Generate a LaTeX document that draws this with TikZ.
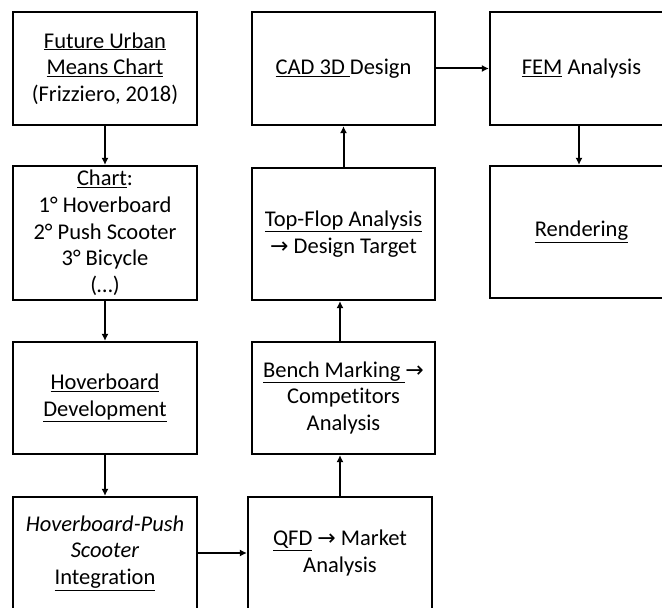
\documentclass[tikz,border=0pt]{standalone}
\usepackage{fontspec}
\setmainfont[Ligatures=NoCommon]{Carlito}
\newfontfamily\arrfont{DejaVu Sans}
\usetikzlibrary{arrows.meta}
\newcommand{\rarr}{{\arrfont\fontsize{22}{20}\selectfont →}}
\begin{document}
\begin{tikzpicture}[x=1pt,y=1pt,
  box/.style={draw,line width=2.2pt,rectangle,align=center,inner sep=0pt,
    minimum width=184pt,font=\fontsize{22.5}{26.7}\selectfont},
  conn/.style={line width=2pt,-{Latex[length=7pt,width=7pt]}}]
\useasboundingbox (0,0) rectangle (662,608);
\clip (0,0) rectangle (662,608);
% column 1
\node[box,minimum height=113pt] (b1) at (105,{608-68.5})
  {\underline{Future Urban}\\\underline{Means Chart}\\(Frizziero, 2018)};
\node[box,minimum height=134pt] (b2) at (105,{608-233})
  {\underline{Chart}:\\1° Hoverboard\\2° Push Scooter\\3° Bicycle\\(…)};
\node[box,minimum height=112pt] (b3) at (105,{608-398})
  {\underline{Hoverboard}\\\underline{Development}};
\node[box,minimum height=112pt] (b4) at (105,{608-553})
  {\textit{Hoverboard-Push}\\\textit{Scooter}\\\underline{Integration}};
% column 2
\node[box,minimum width=183pt,minimum height=113pt] (cad) at (343.5,{608-68.5})
  {\underline{CAD 3D\ }Design};
\node[box,minimum width=183pt,minimum height=132pt] (tf) at (343.5,{608-234})
  {\underline{Top-Flop Analysis}\\\rarr\ Design Target};
\node[box,minimum width=183pt,minimum height=112pt] (bm) at (343.5,{608-398})
  {\underline{Bench Marking\ }\rarr\\Competitors\\Analysis};
\node[box,minimum width=184pt,minimum height=112pt] (qfd) at (340,{608-553})
  {\underline{QFD}\ \rarr\ Market\\Analysis};
% column 3
\node[box,minimum width=183pt,minimum height=113pt] (fem) at (581.5,{608-68.5})
  {\underline{FEM} Analysis};
\node[box,minimum width=183pt,minimum height=132pt] (ren) at (581.5,{608-232})
  {\underline{Rendering}};
% connectors
\draw[conn] (b1) -- (b2);
\draw[conn] (b2) -- (b3);
\draw[conn] (b3) -- (b4);
\draw[conn] (b4) -- (qfd);
\draw[conn] (qfd.north) -- (qfd.north |- bm.south);
\draw[conn] (bm.north -| qfd.north) -- (qfd.north |- tf.south);
\draw[conn] (tf) -- (cad);
\draw[conn] (cad) -- (fem);
\draw[conn] (fem.south -| 579,0) -- (ren.north -| 579,0);
\end{tikzpicture}
\end{document}
